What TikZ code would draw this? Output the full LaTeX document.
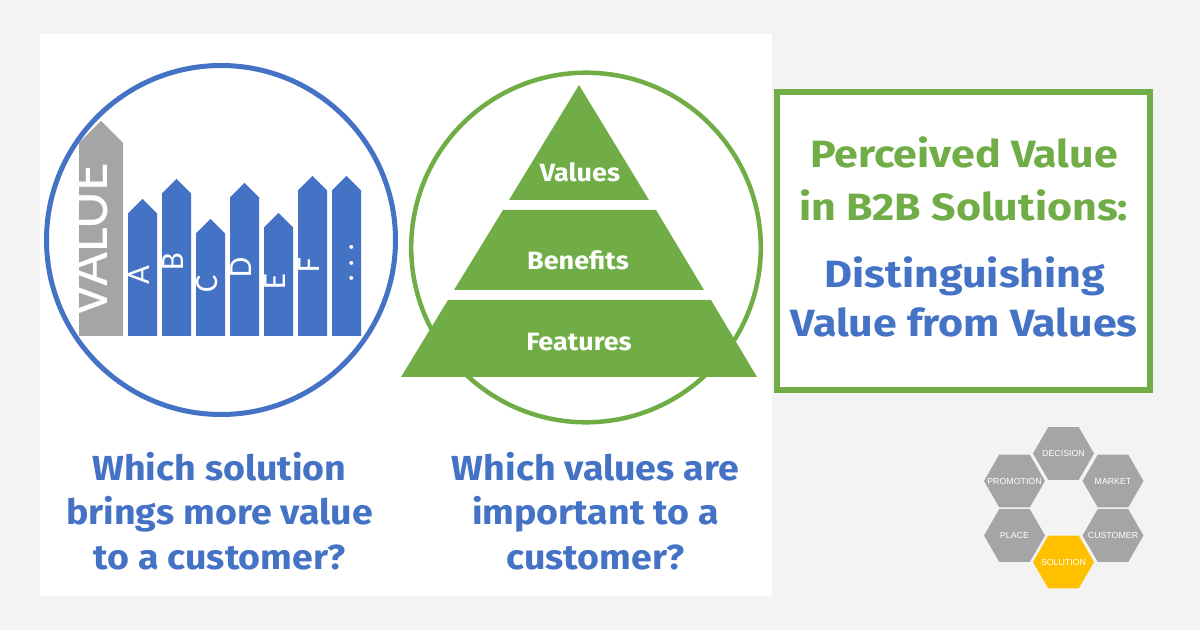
\documentclass[tikz,border=0pt]{standalone}
\usepackage{fontspec}
\setmainfont{Fira Sans}[FakeStretch=1.08]
\newfontfamily\titlefont{Fira Sans}[FakeStretch=1.13]
\newfontfamily\fencefont{Carlito}
\newfontfamily\hexfont{Liberation Sans}
\usetikzlibrary{shapes.geometric}

\definecolor{valBlue}{HTML}{4472C4}
\definecolor{valGreen}{HTML}{70AD47}
\definecolor{valGray}{HTML}{A5A5A5}
\definecolor{valGold}{HTML}{FFC000}
\definecolor{pageGray}{HTML}{F3F3F3}

\begin{document}
\begin{tikzpicture}[x=0.5pt, y=-0.5pt, every node/.style={inner sep=0pt},
  picketlbl/.style={rotate=90, text=white, font=\fencefont\fontsize{16.3}{18}\selectfont, text height=0.65em, text depth=0pt},
  pyrlbl/.style={anchor=base, text=white, font=\bfseries\fontsize{12.5}{14}\selectfont},
  question/.style={anchor=base, text=valBlue, font=\bfseries\fontsize{17.4}{20}\selectfont},
  headline/.style={anchor=base, font=\titlefont\bfseries\fontsize{19}{22}\selectfont},
  hexa/.style={regular polygon, regular polygon sides=6, minimum size=30.5pt, fill=valGray,
    label={[text=white, font=\hexfont\fontsize{4.4}{5}\selectfont]center:#1}}]
  % page and panel
  \fill[pageGray] (0,0) rectangle (1200,630);
  \useasboundingbox (0,0) rectangle (1200,630);
  \fill[white] (40,34) rectangle (772,596);

  % fence of solutions
  \draw[valBlue, line width=2.5pt] (221,240) circle[radius=87.25pt];
  \fill[valGray] (79,336) -- (79,143) -- (101,121) -- (123,143) -- (123,336) -- cycle;
  \node[rotate=90, text=white, font=\fencefont\fontsize{29.5}{32}\selectfont, text height=0.65em, text depth=0pt] (value) at (101,240) {VALUE};
  \foreach \px/\tip/\ly/\lab [count=\i] in {128/199/275/A, 162/179/262/B, 196/219/284/C, 230/183/267/D,
      264/213/282/E, 298/176/265/F, 332/176/263/{.\ .\ .}} {
    \fill[valBlue] (\px,336) -- (\px,\tip+14.5) -- (\px+14.5,\tip) -- (\px+29,\tip+14.5) -- (\px+29,336) -- cycle;
    \node[picketlbl] (post\i) at (\px+14.5,\ly) {\lab};
  }

  % pyramid
  \draw[valGreen, line width=2.25pt] (586,247.5) circle[radius=87.4pt];
  \fill[valGreen] (579,85) -- (649,200) -- (509,200) -- cycle;
  \fill[valGreen] (503,210) -- (656,210) -- (704,290) -- (454,290) -- cycle;
  \fill[valGreen] (448,300) -- (711,300) -- (757,377) -- (401,377) -- cycle;
  \node[pyrlbl] (values) at (580,181.7) {Values};
  \node[pyrlbl] (benefits) at (578,270) {Benefits};
  \node[pyrlbl] (features) at (579,351) {Features};

  % questions
  \node[question] (q1a) at (219.5,481) {Which solution};
  \node[question] (q1b) at (219.5,525) {brings more value};
  \node[question] (q1c) at (219.5,569) {to a customer?};
  \node[question] (q2a) at (595.5,481) {Which values are};
  \node[question] (q2b) at (595.5,525) {important to a};
  \node[question] (q2c) at (595.5,569) {customer?};

  % title box
  \node[draw=valGreen, line width=2.75pt, fill=white, minimum width=186.5pt, minimum height=149pt] (titlebox) at (963.5,241) {};
  \node[headline, text=valGreen] (t1) at (964,168) {Perceived Value};
  \node[headline, text=valGreen] (t2) at (964,221) {in B2B Solutions:};
  \node[headline, text=valBlue] (t3) at (965,288) {Distinguishing};
  \node[headline, text=valBlue] (t4) at (964,337) {Value from Values};

  % hexagon ring
  \node[hexa=DECISION] (decision) at (1063.5,453.5) {};
  \node[hexa=PROMOTION] (promotion) at (1014.5,481) {};
  \node[hexa=MARKET] (market) at (1113,481) {};
  \node[hexa=PLACE] (place) at (1014.5,535.5) {};
  \node[hexa=CUSTOMER] (customer) at (1113,535.5) {};
  \node[hexa=SOLUTION, fill=valGold] (solution) at (1063.5,562) {};
\end{tikzpicture}
\end{document}
